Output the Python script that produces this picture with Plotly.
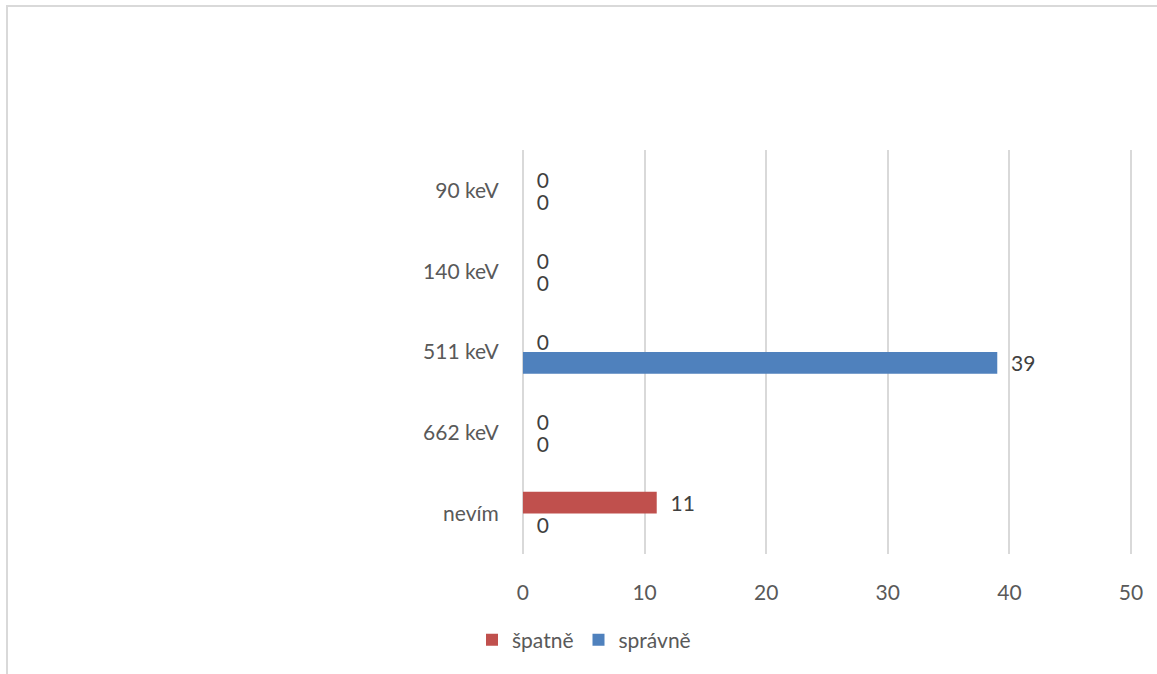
import plotly.graph_objects as go

categories = ["90 keV", "140 keV", "511 keV", "662 keV", "nevím"]
spatne = [0, 0, 0, 0, 11]
spravne = [0, 0, 39, 0, 0]
x_ticks = [0, 10, 20, 30, 40, 50]

FONT = "Lato"
W, H = 1157, 674
L, R, T, B = 521, 24, 150, 120
pw, ph = W - L - R, H - T - B

fig = go.Figure()
fig.add_trace(go.Bar(
    y=categories, x=spatne, name="špatně", orientation="h",
    marker=dict(color="#C0504D", line=dict(width=0)),
    text=spatne, texttemplate="\u00a0\u00a0%{x}", textposition="outside",
    constraintext="none",
    textfont=dict(family=FONT, size=21, color="#404040"), cliponaxis=False,
))
fig.add_trace(go.Bar(
    y=categories, x=spravne, name="správně", orientation="h",
    marker=dict(color="#4F81BD", line=dict(width=0)),
    text=spravne, texttemplate="\u00a0\u00a0%{x}", textposition="outside",
    constraintext="none",
    textfont=dict(family=FONT, size=21, color="#404040"), cliponaxis=False,
))

def px_x(p):
    return (p - L) / pw

def px_y(p):
    return (H - B - p) / ph

fig.add_shape(type="rect", xref="paper", yref="paper",
              x0=px_x(7), x1=px_x(1162), y0=px_y(680), y1=px_y(6),
              line=dict(color="#D9D9D9", width=2), fillcolor="rgba(0,0,0,0)", layer="below")

fig.update_layout(
    width=W, height=H,
    margin=dict(l=L, r=R, t=T, b=B, pad=0),
    paper_bgcolor="white", plot_bgcolor="white",
    barmode="group", bargap=0.46, bargroupgap=0,
    font=dict(family=FONT, size=21, color="#595959"),
    showlegend=True,
    legend=dict(orientation="h", x=px_x(472), xanchor="left", y=px_y(640), yanchor="middle",
                font=dict(family=FONT, size=21, color="#595959"), traceorder="normal",
                itemclick=False),
    xaxis=dict(range=[-0.16, 50.16], tickvals=x_ticks, showgrid=True, gridcolor="#D9D9D9", gridwidth=1.5,
               zeroline=False, showline=False, ticks="outside", ticklen=20,
               tickcolor="rgba(0,0,0,0)", tickfont=dict(family=FONT, size=21, color="#595959"),
               fixedrange=True),
    yaxis=dict(categoryorder="array", categoryarray=categories, autorange="reversed",
               showgrid=False, zeroline=False, showline=False, ticks="outside", ticklen=17,
               tickcolor="rgba(0,0,0,0)", tickfont=dict(family=FONT, size=21, color="#595959"),
               fixedrange=True),
)

fig.write_html("out.html", config={"displayModeBar": False})
